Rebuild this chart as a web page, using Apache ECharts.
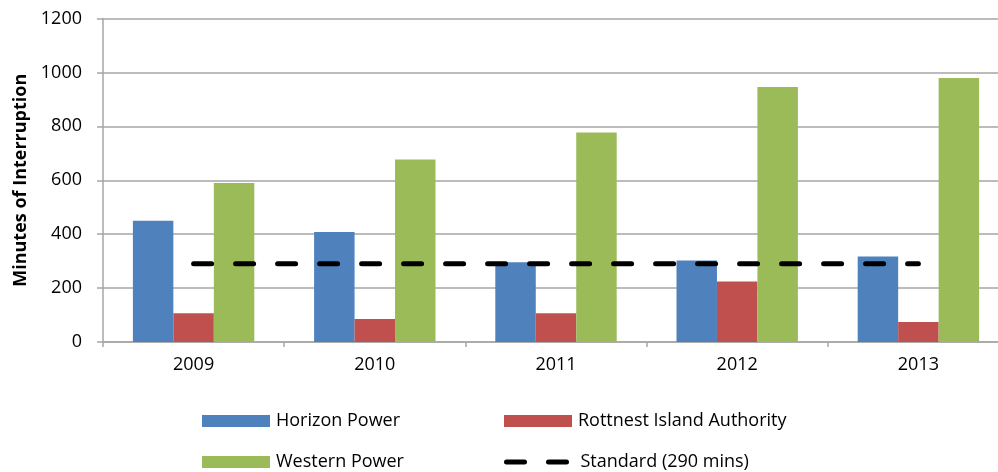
<!DOCTYPE html>
<html>
<head>
<meta charset="utf-8">
<script src="https://cdn.jsdelivr.net/npm/echarts@6/dist/echarts.min.js"></script>
<style>
  html, body { margin: 0; padding: 0; background: #fff; }
  #chart { width: 998px; height: 472px; }
</style>
</head>
<body>
<div id="chart"></div>
<script>
// values
let years = ['2009', '2010', '2011', '2012', '2013'];
let horizonPower = [450, 408, 296, 302, 317];
let rottnest = [107, 85, 107, 224, 74];
let westernPower = [590, 677, 777, 946, 979];
let standard = [290, 290, 290, 290, 290];
let yTicks = { min: 0, max: 1200, interval: 200 };

let font = 'Open Sans';
let gridGray = '#a6a6a6';

let chart = echarts.init(document.getElementById('chart'));

let legendBase = {
  orient: 'horizontal',
  padding: 0,
  itemWidth: 68,
  itemHeight: 12,
  itemGap: 10,
  selectedMode: false,
  textStyle: { fontFamily: font, fontSize: 18, color: '#000', width: 218, lineHeight: 20, padding: [0, 0, 0, 1] }
};

chart.setOption({
  animation: false,
  backgroundColor: '#fff',
  // the plot runs a little past the right edge of the picture, as in the reference
  grid: { left: 103, width: 906, top: 18.5, bottom: 130, outerBoundsMode: 'none' },
  legend: [
    Object.assign({}, legendBase, { left: 202, top: 411,
      data: [{ name: 'Horizon Power', icon: 'rect' }, { name: 'Rottnest Island Authority', icon: 'rect' }] }),
    Object.assign({}, legendBase, { left: 202, top: 452,
      data: [
        { name: 'Western Power', icon: 'rect' },
        { name: 'Standard (290 mins)',
          itemStyle: { color: 'rgba(0,0,0,0)', borderWidth: 0 },
          lineStyle: { color: '#000', width: 5, type: [18, 24], cap: 'round' } }
      ] })
  ],
  xAxis: {
    type: 'category',
    data: years,
    axisLine: { lineStyle: { color: gridGray, width: 1.5 } },
    axisTick: { show: true, length: 5, lineStyle: { color: gridGray, width: 1.5 } },
    axisLabel: { fontFamily: font, fontSize: 18, color: '#000', margin: 14 }
  },
  yAxis: {
    type: 'value',
    min: yTicks.min,
    max: yTicks.max,
    interval: yTicks.interval,
    name: 'Minutes of Interruption',
    nameLocation: 'middle',
    nameGap: 72,
    nameTextStyle: { fontFamily: font, fontSize: 18, fontWeight: 'bold', color: '#000' },
    axisLine: { show: true, lineStyle: { color: gridGray, width: 1.5 } },
    axisTick: { show: true, length: 6, lineStyle: { color: gridGray, width: 1.5 } },
    splitLine: { lineStyle: { color: gridGray, width: 1.5 } },
    axisLabel: { fontFamily: font, fontSize: 18, color: '#000', margin: 21,
      formatter: function (v) { return String(v); } }
  },
  series: [
    { name: 'Horizon Power', type: 'bar', data: horizonPower, barGap: '0%', barCategoryGap: '33%',
      itemStyle: { color: '#4f81bd' } },
    { name: 'Rottnest Island Authority', type: 'bar', data: rottnest,
      itemStyle: { color: '#c0504d' } },
    { name: 'Western Power', type: 'bar', data: westernPower,
      itemStyle: { color: '#9bbb59' } },
    { name: 'Standard (290 mins)', type: 'line', data: standard, symbol: 'none', z: 5,
      itemStyle: { color: '#000' },
      lineStyle: { color: '#000', width: 5, type: [18, 24], cap: 'round' } }
  ]
});
</script>
</body>
</html>
